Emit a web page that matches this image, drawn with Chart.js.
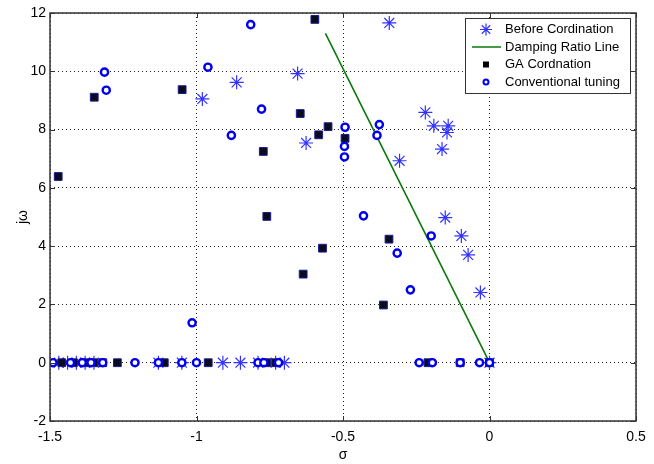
<!DOCTYPE html>
<html>
<head>
<meta charset="utf-8">
<script src="https://cdn.jsdelivr.net/npm/chart.js@4"></script>
<style>
  html, body { margin: 0; padding: 0; background: #fff; }
  #wrap { width: 654px; height: 464px; }
</style>
</head>
<body>
<div id="wrap"><canvas id="rootLocus" width="654" height="464"></canvas></div>
<script>
// Eigenvalue locations (sigma, j-omega) for each tuning case
const beforeX = [-0.342, -0.98, -0.863, -0.655, -0.626, -0.307, -0.219, -0.19, -0.141, -0.145, -0.162, -0.151, -0.096, -0.073, -0.031,
  -1.47, -1.44, -1.41, -1.38, -1.35, -1.13, -1.05, -0.91, -0.85, -0.79, -0.73, -0.70, 0];
const beforeY = [11.66, 9.05, 9.62, 9.92, 7.54, 6.93, 8.59, 8.13, 8.13, 7.9, 7.33, 4.98, 4.35, 3.70, 2.41,
  0, 0, 0, 0, 0, 0, 0, 0, 0, 0, 0, 0, 0];

const gaX = [-0.596, -1.349, -1.049, -0.646, -0.551, -0.583, -0.493, -0.772, -1.472, -0.76, -0.57, -0.343, -0.636, -0.362,
  -1.46, -1.42, -1.38, -1.35, -1.32, -1.27, -1.11, -0.96, -0.76, -0.73, -0.21, -0.10, 0];
const gaY = [11.78, 9.11, 9.37, 8.55, 8.1, 7.82, 7.7, 7.25, 6.39, 5.02, 3.93, 4.24, 3.04, 1.98,
  0, 0, 0, 0, 0, 0, 0, 0, 0, 0, 0, 0, 0];

const convX = [-0.815, -0.961, -1.314, -1.308, -0.778, -0.881, -0.493, -0.495, -0.495, -0.376, -0.384, -0.43, -0.315, -0.27, -0.199, -1.015,
  -1.49, -1.43, -1.39, -1.36, -1.32, -1.21, -1.13, -1.05, -1.00, -0.79, -0.77, -0.72, -0.24, -0.195, -0.10, -0.034, 0];
const convY = [11.6, 10.14, 9.97, 9.35, 8.7, 7.8, 8.08, 7.42, 7.06, 8.17, 7.8, 5.04, 3.76, 2.5, 4.35, 1.37,
  0, 0, 0, 0, 0, 0, 0, 0, 0, 0, 0, 0, 0, 0, 0, 0, 0];

const dampX = [-0.56, 0];
const dampY = [11.3, 0];

const xTicks = [-1.5, -1, -0.5, 0, 0.5];
const yTicks = [-2, 0, 2, 4, 6, 8, 10, 12];

const legendLabels = ['Before Cordination', 'Damping Ratio Line', 'GA Cordnation', 'Conventional tuning'];

const toPoints = (xs, ys) => xs.map((x, i) => ({ x: x, y: ys[i] }));

const FONT = 'Arial, "Liberation Sans", sans-serif';
const STAR_BLUE = '#3333ff';
const CIRCLE_BLUE = '#0000ee';
const GREEN = '#0a7a0a';

// Matlab style frame: solid box with inward ticks, plus the legend box
const framePlugin = {
  id: 'frame',
  afterDraw(chart) {
    const { ctx, chartArea: a, scales } = chart;
    ctx.save();
    ctx.strokeStyle = '#333';
    ctx.lineWidth = 1.5;
    ctx.strokeRect(a.left, a.top, a.right - a.left, a.bottom - a.top);
    ctx.lineWidth = 1;
    ctx.beginPath();
    xTicks.forEach(v => {
      const px = Math.round(scales.x.getPixelForValue(v)) + 0.5;
      ctx.moveTo(px, a.bottom); ctx.lineTo(px, a.bottom - 5);
      ctx.moveTo(px, a.top); ctx.lineTo(px, a.top + 5);
    });
    yTicks.forEach(v => {
      const py = Math.round(scales.y.getPixelForValue(v)) + 0.5;
      ctx.moveTo(a.left, py); ctx.lineTo(a.left + 5, py);
      ctx.moveTo(a.right, py); ctx.lineTo(a.right - 5, py);
    });
    ctx.stroke();

    // legend
    const lx = 465, ly = 18, lw = 165, lh = 75;
    ctx.fillStyle = '#fff';
    ctx.fillRect(lx, ly, lw, lh);
    ctx.strokeStyle = '#333';
    ctx.lineWidth = 1;
    ctx.strokeRect(lx + 0.5, ly + 0.5, lw, lh);
    const rows = [29.5, 47, 64.5, 82];
    const mx = 486;
    // asterisk
    ctx.strokeStyle = STAR_BLUE;
    ctx.lineWidth = 1.2;
    ctx.beginPath();
    for (let k = 0; k < 4; k++) {
      const ang = k * Math.PI / 4;
      const r = 6;
      ctx.moveTo(mx - r * Math.cos(ang), rows[0] - r * Math.sin(ang));
      ctx.lineTo(mx + r * Math.cos(ang), rows[0] + r * Math.sin(ang));
    }
    ctx.stroke();
    // damping line
    ctx.strokeStyle = GREEN;
    ctx.lineWidth = 1.5;
    ctx.beginPath();
    ctx.moveTo(472, rows[1]); ctx.lineTo(501, rows[1]);
    ctx.stroke();
    // square
    ctx.fillStyle = '#000';
    ctx.fillRect(mx - 3, rows[2] - 3, 6, 6);
    // circle
    ctx.strokeStyle = CIRCLE_BLUE;
    ctx.lineWidth = 2;
    ctx.beginPath();
    ctx.arc(mx, rows[3], 2.5, 0, Math.PI * 2);
    ctx.stroke();

    ctx.fillStyle = '#000';
    ctx.font = '13px ' + FONT;
    ctx.textBaseline = 'middle';
    ctx.textAlign = 'left';
    legendLabels.forEach((t, i) => ctx.fillText(t, 505, rows[i]));
    ctx.restore();
  }
};

const fmt = v => String(Number(v.toFixed(1)));

new Chart(document.getElementById('rootLocus'), {
  type: 'scatter',
  data: {
    datasets: [
      {
        label: legendLabels[3],
        data: toPoints(convX, convY),
        pointStyle: 'circle',
        pointRadius: 3.6,
        pointBorderWidth: 2.4,
        pointBackgroundColor: '#fff',
        pointBorderColor: CIRCLE_BLUE,
        order: 1
      },
      {
        label: legendLabels[2],
        data: toPoints(gaX, gaY),
        pointStyle: 'rect',
        pointRadius: 5.5,
        pointBorderWidth: 1,
        pointBackgroundColor: '#0b0b20',
        pointBorderColor: '#1c1c90',
        order: 2
      },
      {
        label: legendLabels[1],
        type: 'line',
        data: toPoints(dampX, dampY),
        borderColor: GREEN,
        borderWidth: 1.6,
        pointRadius: 0,
        fill: false,
        order: 3
      },
      {
        label: legendLabels[0],
        data: toPoints(beforeX, beforeY),
        pointStyle: 'star',
        pointRadius: 7,
        pointBorderWidth: 1.2,
        pointBorderColor: STAR_BLUE,
        pointBackgroundColor: STAR_BLUE,
        order: 4
      }
    ]
  },
  options: {
    responsive: false,
    animation: false,
    layout: { padding: { left: 0, top: 13, right: 18, bottom: 0 } },
    plugins: {
      legend: { display: false },
      tooltip: { enabled: false }
    },
    scales: {
      x: {
        type: 'linear',
        min: -1.5,
        max: 0.5,
        afterFit: s => { s.height = 43; },
        afterBuildTicks: s => { s.ticks = xTicks.map(v => ({ value: v })); },
        ticks: {
          padding: 8,
          color: '#000',
          font: { family: FONT, size: 14 },
          callback: v => fmt(v),
          maxRotation: 0
        },
        grid: { color: '#222', lineWidth: 1, drawTicks: false },
        border: { display: false, dash: [1, 3] },
        title: {
          display: true,
          text: 'σ',
          color: '#000',
          font: { family: FONT, size: 14 },
          padding: { top: 1, bottom: 0 }
        }
      },
      y: {
        type: 'linear',
        min: -2,
        max: 12,
        afterFit: s => { s.width = 50; },
        afterBuildTicks: s => { s.ticks = yTicks.map(v => ({ value: v })); },
        ticks: {
          padding: 4,
          color: '#000',
          font: { family: FONT, size: 14 },
          callback: v => fmt(v)
        },
        grid: { color: '#222', lineWidth: 1, drawTicks: false },
        border: { display: false, dash: [1, 3] },
        title: {
          display: true,
          text: 'jω',
          color: '#000',
          font: { family: FONT, size: 14 },
          padding: { top: 15, bottom: 0 }
        }
      }
    }
  },
  plugins: [framePlugin]
});
</script>
</body>
</html>
